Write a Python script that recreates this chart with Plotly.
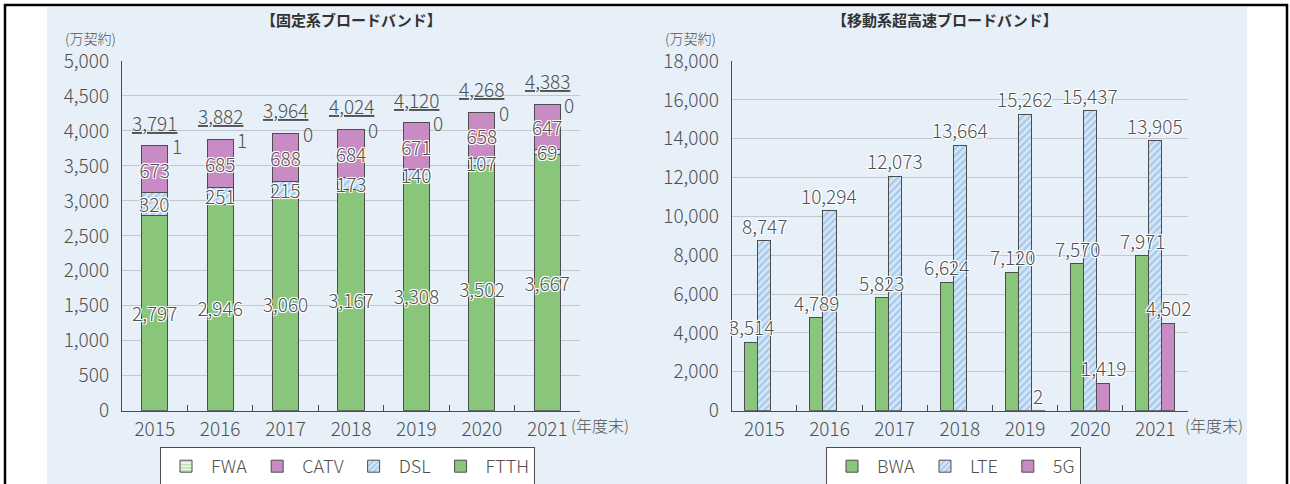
import plotly.graph_objects as go

years = ["2015", "2016", "2017", "2018", "2019", "2020", "2021"]

# fixed broadband (万契約)
ftth = [2797, 2946, 3060, 3167, 3308, 3502, 3667]
dsl = [320, 251, 215, 173, 140, 107, 69]
catv = [673, 685, 688, 684, 671, 658, 647]
fwa = [1, 1, 0, 0, 0, 0, 0]
fixed_total = [3791, 3882, 3964, 4024, 4120, 4268, 4383]

# mobile ultra-high-speed broadband (万契約)
bwa = [3514, 4789, 5823, 6624, 7120, 7570, 7971]
lte = [8747, 10294, 12073, 13664, 15262, 15437, 13905]
g5 = [None, None, None, None, 2, 1419, 4502]

W, H = 1290, 484
GREEN = "#89c67c"
PURPLE = "#c98bc3"
EDGE = "#4d4d4d"
TXT = "#505050"
FONT = "Noto Sans CJK JP, sans-serif"
HALO = ("-1px -1px 0 #fff, 1px -1px 0 #fff, -1px 1px 0 #fff, 1px 1px 0 #fff, "
        "0 0 2px #fff")

def px(x):
    return x / W

def py(y):
    return 1 - y / H

dsl_pattern = dict(shape="/", bgcolor="#d4e7f8", fgcolor="#78a9dc", size=5, solidity=0.45, fillmode="overlay")
fwa_pattern = dict(shape="-", bgcolor="#eef8ea", fgcolor=GREEN, size=4, solidity=0.5, fillmode="overlay")
label_font = dict(family=FONT, size=19, color=TXT, shadow=HALO, weight=300)
plain_font = dict(family=FONT, size=19, color=TXT, weight=300)

fig = go.Figure()

# left: stacked bars
for vals, name, marker, lab in [
    (ftth, "FTTH", dict(color=GREEN, line=dict(color=EDGE, width=1)), True),
    (dsl, "DSL", dict(color="#d4e7f8", pattern=dsl_pattern, line=dict(color=EDGE, width=1)), False),
    (catv, "CATV", dict(color=PURPLE, line=dict(color=EDGE, width=1)), True),
    (fwa, "FWA", dict(color="#eef8ea", pattern=fwa_pattern, line=dict(color=EDGE, width=1)), False),
]:
    fig.add_trace(go.Bar(x=years, y=vals, name=name, width=0.4, marker=marker,
                         text=[f"{v:,}" for v in vals] if lab else None,
                         textposition="inside", insidetextanchor="middle",
                         textfont=label_font, constraintext="none", textangle=0,
                         cliponaxis=False, legend="legend", xaxis="x", yaxis="y"))

# right: grouped bars (labels drawn as annotations so they sit above neighbours)
for vals, name, grp, marker in [
    (bwa, "BWA", "a", dict(color=GREEN, line=dict(color=EDGE, width=1))),
    (lte, "LTE", "b", dict(color="#d4e7f8", pattern=dsl_pattern, line=dict(color=EDGE, width=1))),
    (g5, "5G", "c", dict(color=PURPLE, line=dict(color=EDGE, width=1))),
]:
    fig.add_trace(go.Bar(x=years, y=vals, name=name, offsetgroup=grp, marker=marker,
                         legend="legend2", xaxis="x2", yaxis="y2"))

annotations = []
for i, (tot, f, base, d) in enumerate(zip(fixed_total, fwa, ftth, dsl)):
    annotations.append(dict(x=i, y=tot, xref="x", yref="y", text=f"<u>{tot:,}</u>",
                            showarrow=False, yanchor="bottom", yshift=8, font=plain_font))
    annotations.append(dict(x=i, y=tot, xref="x", yref="y", text=str(f),
                            showarrow=False, xshift=22, yanchor="middle", font=plain_font))
    # DSL value, centred on its segment and kept above the CATV bar
    annotations.append(dict(x=i, y=base + d / 2, xref="x", yref="y", text=f"{d:,}",
                            showarrow=False, yanchor="middle", font=label_font))

for vals, shift in [(bwa, -13), (lte, 0), (g5, 13)]:
    for i, v in enumerate(vals):
        if v is None:
            continue
        annotations.append(dict(x=i, y=v, xref="x2", yref="y2", text=f"{v:,}",
                                showarrow=False, xshift=shift, yanchor="bottom", yshift=0,
                                font=label_font))

for cx, title in [(351, "【固定系ブロードバンド】"), (945, "【移動系超高速ブロードバンド】")]:
    annotations.append(dict(x=px(cx), y=py(20), xref="paper", yref="paper", text=title,
                            showarrow=False, xanchor="center", yanchor="middle",
                            font=dict(family=FONT, size=15, color="#333", weight="bold")))
for lx in [63, 663]:
    annotations.append(dict(x=px(lx), y=py(38), xref="paper", yref="paper", text="(万契約)",
                            showarrow=False, xanchor="left", yanchor="middle",
                            font=dict(family=FONT, size=14, color=TXT, weight=300)))
for lx in [569, 1183]:
    annotations.append(dict(x=px(lx), y=py(425), xref="paper", yref="paper", text="(年度末)",
                            showarrow=False, xanchor="left", yanchor="middle",
                            font=dict(family=FONT, size=16, color=TXT, weight=300)))

shapes = [
    dict(type="rect", xref="paper", yref="paper", x0=px(47), x1=px(1247), y0=-0.1, y1=py(7),
         fillcolor="#e7f0f9", line=dict(width=0), layer="below"),
    dict(type="rect", xref="paper", yref="paper", x0=px(5), x1=px(1287), y0=-0.1, y1=py(5),
         line=dict(color="black", width=2.5), layer="above"),
]

xcommon = dict(type="category", range=[-0.5, len(years) - 0.5], autorange=False,
               showline=True, linecolor=EDGE, linewidth=1.2, ticks="inside",
               tickson="boundaries", ticklen=6, tickcolor=EDGE, showgrid=False,
               tickfont=plain_font, ticklabelstandoff=1, automargin=False)
ycommon = dict(showline=True, linecolor=EDGE, linewidth=1.2, ticks="", tickformat=",",
               showgrid=True, gridcolor="#c3c8cd", gridwidth=1, zeroline=False,
               tickfont=plain_font, ticklabelstandoff=8, automargin=False)
legcommon = dict(orientation="h", y=py(447), xanchor="left", yanchor="top",
                 bgcolor="white", bordercolor=EDGE, borderwidth=1, itemwidth=40,
                 font=dict(family=FONT, size=18, color=TXT, weight=300))

fig.update_layout(
    width=W, height=H,
    margin=dict(l=0, r=0, t=0, b=0, autoexpand=False),
    paper_bgcolor="white", plot_bgcolor="rgba(0,0,0,0)",
    barmode="stack", bargap=0.4, bargroupgap=0,
    font=dict(family=FONT, size=19, color=TXT),
    xaxis=dict(domain=[px(122), px(580)], anchor="y", **xcommon),
    yaxis=dict(domain=[py(410.7), py(61)], anchor="x", range=[0, 5000], dtick=500, **ycommon),
    xaxis2=dict(domain=[px(731.7), px(1188)], anchor="y2", **xcommon),
    yaxis2=dict(domain=[py(410.7), py(61)], anchor="x2", range=[0, 18000], dtick=2000, **ycommon),
    legend=dict(x=px(160), traceorder="reversed", **legcommon),
    legend2=dict(x=px(826), traceorder="normal", **legcommon),
    annotations=annotations,
    shapes=shapes,
)

# the page's default body margin would push the figure 8px off the window corner
fig.write_html("out.html", config={"displayModeBar": False},
               post_script="document.body.style.margin='0';document.body.style.overflow='hidden';")
